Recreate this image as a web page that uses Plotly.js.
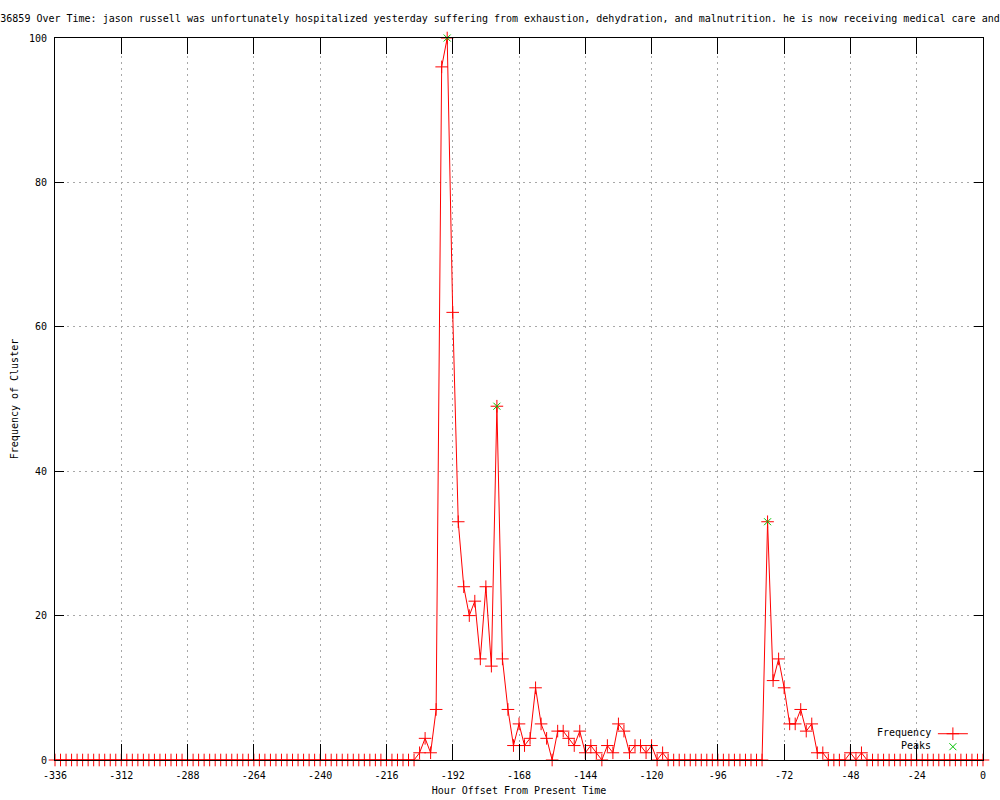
<!DOCTYPE html>
<html>
<head>
<meta charset="utf-8">
<script src="https://cdn.plot.ly/plotly-3.0.1.min.js"></script>
<style>
html,body{margin:0;padding:0;background:#fff;}
#chart{width:1000px;height:800px;}
</style>
</head>
<body>
<div id="chart"></div>
<script>
// Hour offsets (every 2 hours)
const hours = [
-336,-334,-332,-330,-328,-326,-324,-322,-320,-318,-316,-314,
-312,-310,-308,-306,-304,-302,-300,-298,-296,-294,-292,-290,
-288,-286,-284,-282,-280,-278,-276,-274,-272,-270,-268,-266,
-264,-262,-260,-258,-256,-254,-252,-250,-248,-246,-244,-242,
-240,-238,-236,-234,-232,-230,-228,-226,-224,-222,-220,-218,
-216,-214,-212,-210,-208,-206,-204,-202,-200,-198,-196,-194,
-192,-190,-188,-186,-184,-182,-180,-178,-176,-174,-172,-170,
-168,-166,-164,-162,-160,-158,-156,-154,-152,-150,-148,-146,
-144,-142,-140,-138,-136,-134,-132,-130,-128,-126,-124,-122,
-120,-118,-116,-114,-112,-110,-108,-106,-104,-102,-100,-98,
-96,-94,-92,-90,-88,-86,-84,-82,-80,-78,-76,-74,
-72,-70,-68,-66,-64,-62,-60,-58,-56,-54,-52,-50,
-48,-46,-44,-42,-40,-38,-36,-34,-32,-30,-28,-26,
-24,-22,-20,-18,-16,-14,-12,-10,-8,-6,-4,-2,
0];

// Frequency of cluster at each hour offset
const frequency = [
0,0,0,0,0,0,0,0,0,0,0,0,
0,0,0,0,0,0,0,0,0,0,0,0,
0,0,0,0,0,0,0,0,0,0,0,0,
0,0,0,0,0,0,0,0,0,0,0,0,
0,0,0,0,0,0,0,0,0,0,0,0,
0,0,0,0,0,0,1,3,1,7,96,100,
62,33,24,20,22,14,24,13,49,14,7,2,
5,2,3,10,5,3,0,4,4,3,2,4,
1,2,1,0,2,1,5,4,1,2,2,1,
2,0,1,0,0,0,0,0,0,0,0,0,
0,0,0,0,0,0,0,0,0,33,11,14,
10,5,5,7,4,5,1,1,0,0,0,0,
1,0,1,0,0,0,0,0,0,0,0,0,
0,0,0,0,0,0,0,0,0,0,0,0,
0];

// Detected peaks
const peakHours = [-194, -176, -78];
const peakValues = [100, 49, 33];

// Axis ticks
const xTicks = [-336,-312,-288,-264,-240,-216,-192,-168,-144,-120,-96,-72,-48,-24,0];
const yTicks = [0,20,40,60,80,100];

const seriesNames = ["Frequency", "Peaks"];
const titleText = "36859 Over Time: jason russell was unfortunately hospitalized yesterday suffering from exhaustion, dehydration, and malnutrition. he is now receiving medical care and";

const FONT = "DejaVu Sans Mono, Liberation Mono, monospace";

const traces = [
  {
    x: hours, y: frequency, type: "scatter", mode: "lines+markers",
    name: " ", legend: "legend",
    line: {color: "#ff0000", width: 1},
    marker: {symbol: "cross-thin-open", size: 9, color: "#ff0000", line: {color: "#ff0000", width: 1}},
    cliponaxis: false
  },
  {
    x: peakHours, y: peakValues, type: "scatter", mode: "markers",
    name: " ", legend: "legend2",
    marker: {symbol: "x-thin-open", size: 7, color: "#00c000", line: {color: "#00c000", width: 1}},
    cliponaxis: false
  }
];

const layout = {
  width: 1000, height: 800,
  paper_bgcolor: "#ffffff", plot_bgcolor: "#ffffff",
  margin: {l: 55, r: 17, t: 38, b: 40, pad: 0},
  font: {family: FONT, size: 10, color: "#000"},
  title: {text: titleText, font: {family: FONT, size: 10, color: "#000"}, x: 0.5, xref: "container", y: 0.977, yref: "container", yanchor: "middle"},
  xaxis: {
    range: [-336, 0], tickvals: xTicks, ticktext: xTicks.map(String),
    ticks: "inside", ticklen: 16, tickcolor: "#000", tickwidth: 1,
    showline: true, linecolor: "#000", linewidth: 1, mirror: "ticks",
    showgrid: true, gridcolor: "#a8a8a8", griddash: "2px,4px", gridwidth: 1,
    zeroline: false, ticklabelstandoff: 6,
    title: {text: "Hour Offset From Present Time", font: {family: FONT, size: 10}, standoff: 6},
    automargin: false
  },
  yaxis: {
    range: [0, 100], tickvals: yTicks, ticktext: yTicks.map(String),
    ticks: "inside", ticklen: 9, tickcolor: "#000", tickwidth: 1,
    showline: true, linecolor: "#000", linewidth: 1, mirror: "ticks",
    showgrid: true, gridcolor: "#a8a8a8", griddash: "2px,4px", gridwidth: 1,
    zeroline: false, ticklabelstandoff: 5,
    title: {text: "Frequency of Cluster", font: {family: FONT, size: 10}, standoff: 8},
    automargin: false
  },
  showlegend: true,
  legend: {x: 0.946, xanchor: "left", y: 0.0364, yanchor: "middle", bgcolor: "rgba(0,0,0,0)", borderwidth: 0, font: {size: 10}, itemwidth: 30},
  legend2: {x: 0.946, xanchor: "left", y: 0.0184, yanchor: "middle", bgcolor: "rgba(0,0,0,0)", borderwidth: 0, font: {size: 10}, itemwidth: 30},
  annotations: [
    {text: seriesNames[0], xref: "paper", yref: "paper", x: 0.946, y: 0.0374, xanchor: "right", yanchor: "middle", showarrow: false, font: {family: FONT, size: 10, color: "#000"}},
    {text: seriesNames[1], xref: "paper", yref: "paper", x: 0.946, y: 0.0194, xanchor: "right", yanchor: "middle", showarrow: false, font: {family: FONT, size: 10, color: "#000"}}
  ]
};

Plotly.newPlot("chart", traces, layout, {displayModeBar: false, staticPlot: true});
</script>
</body>
</html>
